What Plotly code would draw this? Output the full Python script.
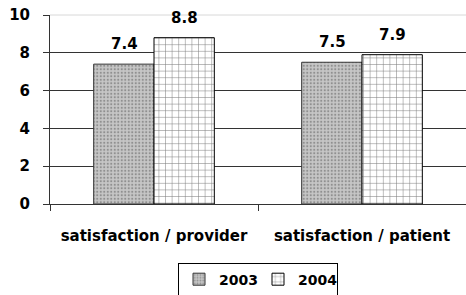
import plotly.graph_objects as go

categories = ["satisfaction / provider", "satisfaction / patient"]
values_2003 = [7.4, 7.5]
values_2004 = [8.8, 7.9]
labels_2003 = ["7.4", "7.5"]
labels_2004 = ["8.8", "7.9"]
y_ticks = [0, 2, 4, 6, 8, 10]
grid_vals = [2, 4, 6, 8]

FONT = "DejaVu Sans"
BOLD = dict(family=FONT, size=15, color="black", weight="bold")

fig = go.Figure()
fig.add_trace(go.Bar(
    name="2003", x=categories, y=values_2003,
    marker=dict(
        color="#b5b5b5",
        line=dict(color="#333333", width=1),
        pattern=dict(shape=".", bgcolor="#c6c6c6", fgcolor="#5a5a5a",
                     size=3.5, solidity=0.3, fillmode="overlay"),
    ),
    hoverinfo="skip",
))
fig.add_trace(go.Bar(
    name="2004", x=categories, y=values_2004,
    marker=dict(
        color="white",
        line=dict(color="black", width=1),
        pattern=dict(shape="+", bgcolor="white", fgcolor="black",
                     size=6.6, solidity=0.15, fillmode="overlay"),
    ),
    hoverinfo="skip",
))

# value labels above bars
for cat, v, t in zip(categories, values_2003, labels_2003):
    fig.add_annotation(x=cat, y=v, text=t, showarrow=False, xref="x", yref="y",
                       xshift=-30, yshift=9, yanchor="bottom", font=BOLD)
for cat, v, t in zip(categories, values_2004, labels_2004):
    fig.add_annotation(x=cat, y=v, text=t, showarrow=False, xref="x", yref="y",
                       xshift=30, yshift=9, yanchor="bottom", font=BOLD)

fig.update_layout(
    width=466, height=295,
    margin=dict(l=50, r=0, t=15, b=91, autoexpand=False),
    paper_bgcolor="white", plot_bgcolor="white",
    barmode="group", bargap=0.42, bargroupgap=0,
    font=dict(family=FONT, size=14, color="black"),
    showlegend=True,
    legend=dict(
        orientation="h", x=0.5, xanchor="center", y=-0.31, yanchor="top",
        bordercolor="black", borderwidth=1,
        font=dict(family=FONT, size=14, color="black", weight="bold"),
        itemwidth=30, tracegroupgap=0,
        entrywidth=34, entrywidthmode="pixels",
    ),
)

fig.update_yaxes(
    range=[0, 10], tickvals=y_ticks, ticktext=[str(v) for v in y_ticks],
    showgrid=False,
    minor=dict(tickvals=grid_vals, showgrid=True, gridcolor="#333333",
               gridwidth=1, ticks=""),
    showline=True, linecolor="#333333", linewidth=1,
    ticks="outside", ticklen=6, tickcolor="#333333",
    tickfont=BOLD, ticklabelstandoff=10,
    zeroline=False, fixedrange=True, automargin=False,
)
fig.update_xaxes(
    showline=True, linecolor="#333333", linewidth=1,
    ticks="outside", tickson="boundaries", ticklen=6, tickcolor="#333333",
    tickfont=BOLD, ticklabelstandoff=18,
    fixedrange=True, automargin=False,
)
# light top border at 10
fig.add_shape(type="line", xref="paper", yref="paper", x0=0, x1=1, y0=1, y1=1,
              line=dict(color="#d8d8d8", width=1), layer="above")

fig.write_html("out.html", post_script="document.body.style.margin='0';",
               config={"displayModeBar": False})
